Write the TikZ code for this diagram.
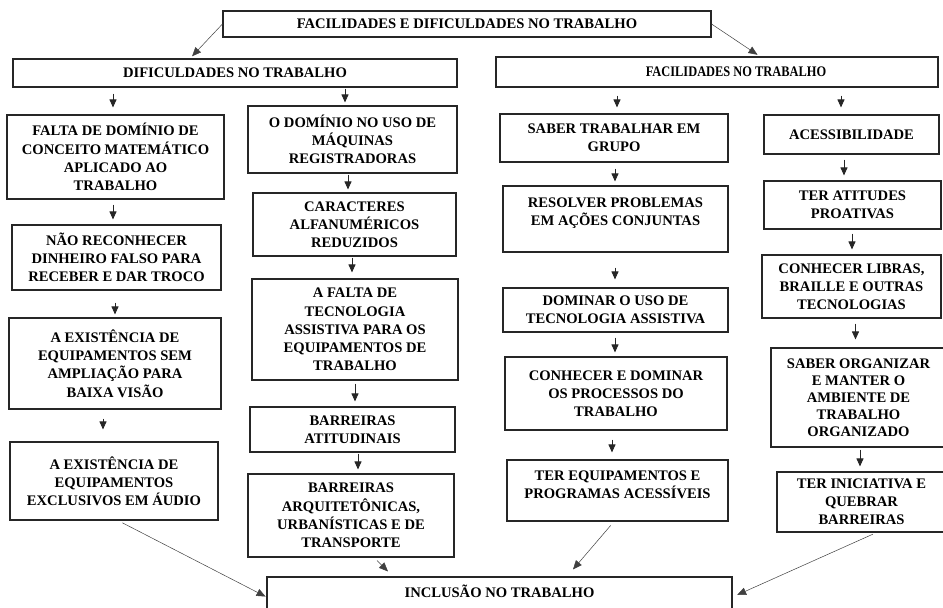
\documentclass[tikz,border=0pt]{standalone}
\usepackage{fontspec}
\setmainfont{Liberation Serif}
\usetikzlibrary{arrows.meta}

\begin{document}
\begin{tikzpicture}[
  x=1pt, y=-1pt,
  box/.style={draw=black!85, line width=1.1pt, fill=white, align=center,
              inner sep=2pt, font=\fontsize{14.6}{18.2}\selectfont\bfseries},
  arr/.style={-{Triangle[length=8pt,width=7pt]}, line width=0.9pt, black!85},
  darr/.style={-{Triangle[length=9pt,width=7.5pt]}, line width=0.5pt, black!75}
]
\useasboundingbox (0,0) rectangle (943,608);
\clip (0,0) rectangle (943,608);

%% Headers
\node[box, minimum width=488pt, minimum height=26pt] (top) at (467,24)
  {FACILIDADES E DIFICULDADES NO TRABALHO};
\node[box, minimum width=444pt, minimum height=28pt] (dif) at (235,73)
  {DIFICULDADES NO TRABALHO};
\node[box, minimum width=442pt, minimum height=30pt] (fac) at (717,72)
  {\hspace*{38pt}\scalebox{0.85}[1]{FACILIDADES NO TRABALHO}};
\draw[darr, shorten >=3pt] (top.west) -- ([xshift=-45pt]dif.north);
\draw[darr, shorten >=3pt] (top.east) -- ([xshift=43pt]fac.north);

%% Dificuldades, first column
\node[box, minimum width=217pt, minimum height=84pt] (b11) at (115.5,157)
  {FALTA DE DOMÍNIO DE\\CONCEITO MATEMÁTICO\\APLICADO AO\\TRABALHO};
\node[box, minimum width=209pt, minimum height=65pt] (b12) at (116.5,257.5)
  {NÃO RECONHECER\\DINHEIRO FALSO PARA\\RECEBER E DAR TROCO};
\node[box, minimum width=212pt, minimum height=91pt] (b13) at (115,363.5)
  {A EXISTÊNCIA DE\\EQUIPAMENTOS SEM\\AMPLIAÇÃO PARA\\BAIXA VISÃO};
\node[box, minimum width=208pt, minimum height=78pt] (b14) at (114,481)
  {A EXISTÊNCIA DE\\EQUIPAMENTOS\\EXCLUSIVOS EM ÁUDIO};

%% Dificuldades, second column
\node[box, minimum width=209pt, minimum height=67pt] (c21) at (352.5,139.5)
  {O DOMÍNIO NO USO DE\\MÁQUINAS\\REGISTRADORAS};
\node[box, minimum width=203pt, minimum height=63pt] (c22) at (354.5,224.5)
  {CARACTERES\\ALFANUMÉRICOS\\REDUZIDOS};
\node[box, minimum width=206pt, minimum height=101pt] (c23) at (355,329.5)
  {A FALTA DE\\TECNOLOGIA\\ASSISTIVA PARA OS\\EQUIPAMENTOS DE\\TRABALHO};
\node[box, minimum width=205pt, minimum height=45pt] (c24) at (352.5,429.5)
  {BARREIRAS\\ATITUDINAIS};
\node[box, minimum width=206pt, minimum height=83pt] (c25) at (351,515.5)
  {BARREIRAS\\ARQUITETÔNICAS,\\URBANÍSTICAS E DE\\TRANSPORTE};

%% Facilidades, first column
\node[box, minimum width=228pt, minimum height=48pt] (d31) at (614,138)
  {SABER TRABALHAR EM\\GRUPO};
\node[box, minimum width=225pt, minimum height=66pt, text depth=14pt] (d32) at (615.5,219)
  {RESOLVER PROBLEMAS\\EM AÇÕES CONJUNTAS};
\node[box, minimum width=225pt, minimum height=44pt] (d33) at (615.5,310)
  {DOMINAR O USO DE\\TECNOLOGIA ASSISTIVA};
\node[box, minimum width=222pt, minimum height=73pt] (d34) at (616,393.5)
  {CONHECER E DOMINAR\\OS PROCESSOS DO\\TRABALHO};
\node[box, minimum width=221pt, minimum height=61pt, text depth=12pt] (d35) at (617.5,490.5)
  {TER EQUIPAMENTOS E\\PROGRAMAS ACESSÍVEIS};

%% Facilidades, second column
\node[box, minimum width=175pt, minimum height=39pt] (e41) at (851.5,134.5)
  {ACESSIBILIDADE};
\node[box, minimum width=177pt, minimum height=48pt] (e42) at (852.5,205)
  {TER ATITUDES\\PROATIVAS};
\node[box, minimum width=179pt, minimum height=63pt] (e43) at (851.5,286.5)
  {CONHECER LIBRAS,\\BRAILLE E OUTRAS\\TECNOLOGIAS};
\node[box, minimum width=175pt, minimum height=99pt,
      font=\fontsize{14.6}{17}\selectfont\bfseries] (e44) at (858.5,397.5)
  {SABER ORGANIZAR\\E MANTER O\\AMBIENTE DE\\TRABALHO\\ORGANIZADO};
\node[box, minimum width=169pt, minimum height=60pt] (e45) at (861.5,502)
  {TER INICIATIVA E\\QUEBRAR\\BARREIRAS};

%% Inclusion
\node[box, minimum width=465pt, minimum height=40pt, text height=10pt,
      text depth=10pt] (inc) at (499.5,597) {INCLUSÃO NO TRABALHO};

%% Vertical arrows
\foreach \a/\b/\dx/\ga/\gb in {dif/b11/-2.5/6/7, b11/b12/-3.5/5/5,
    b12/b13/0/12/3, b13/b14/-11/9/12,
    dif/c21/-7.5/1/3, c21/c22/-6.5/1/3, c22/c23/-3/1/6, c23/c24/2.5/3/5,
    c24/c25/7/1/4,
    fac/d31/3/8/6, d31/d32/-0.5/6/4, d32/d33/-0.5/15/8, d33/d34/-1/5/4,
    d34/d35/-5.5/9/7,
    fac/e41/-10.5/8/7, e41/e42/-8.5/5/5, e42/e43/0.5/4/5, e43/e44/-3/5/8,
    e44/e45/-1.5/2/5}{
  \draw[arr, transform canvas={xshift=\dx pt}, shorten <=\ga pt, shorten >=\gb pt]
    (\b.north |- \a.south) -- (\b.north);
}

%% Into the inclusion box
\draw[darr, shorten <=5pt, shorten >=1pt] ([xshift=4pt]b14.south) -- (inc.west);
\draw[darr] ([xshift=26pt,yshift=-3pt]c25.south) -- ([xshift=-111.5pt,yshift=5pt]inc.north);
\draw[darr, shorten <=5pt] ([xshift=-3.5pt]d35.south) -- ([xshift=73.5pt,yshift=7pt]inc.north);
\draw[darr, shorten <=4pt, shorten >=5pt] ([xshift=15pt]e45.south) -- (inc.east);
\end{tikzpicture}
\end{document}
